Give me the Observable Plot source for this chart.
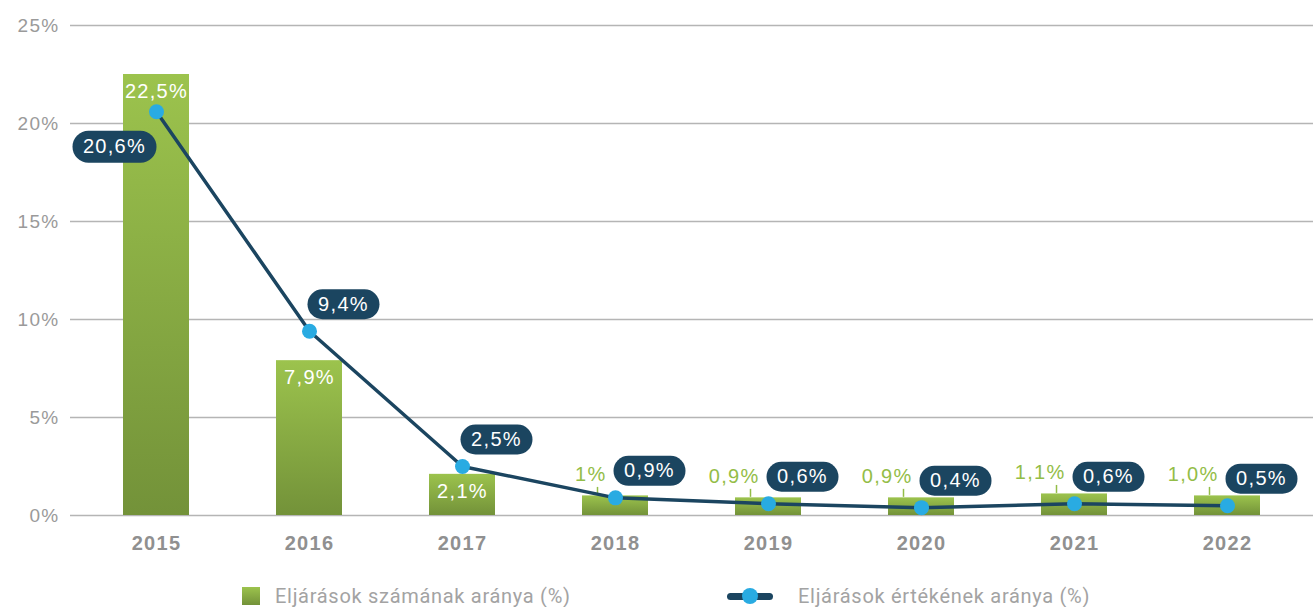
<!DOCTYPE html>
<html><head><meta charset="utf-8">
<script src="https://cdn.jsdelivr.net/npm/d3@7"></script>
<script src="https://cdn.jsdelivr.net/npm/@observablehq/plot@0.6"></script>
<style>
body{margin:0;background:#fff;font-family:"Liberation Sans",Arial,sans-serif}
#wrap{position:relative;width:1313px;height:607px;overflow:hidden}
#legend{position:absolute;left:0;top:577px;width:1313px;height:37px;font-family:Roboto,"Liberation Sans",sans-serif;font-size:20px;letter-spacing:0.7px;color:#a3a3a3}
.item{position:absolute;top:0;height:37px;display:flex;align-items:center}
.sq{width:18px;height:18px;background:linear-gradient(#9cc34d,#739239);margin-right:15px}
.ln{position:relative;width:46px;height:18px;margin-right:25px}
.ln .bar{position:absolute;left:0;right:0;top:6px;height:7px;border-radius:4px;background:#1b4560}
.ln .dt{position:absolute;left:15px;top:1px;width:16px;height:16px;border-radius:50%;background:#29abe2}
svg text{letter-spacing:1.3px}
</style></head><body>
<div id="wrap"><div id="chart"></div><div id="legend"></div></div>
<script>
const years = ["2015","2016","2017","2018","2019","2020","2021","2022"];
const countShare = [22.5, 7.9, 2.1, 1.0, 0.9, 0.9, 1.1, 1.0];
const countLabels = ["22,5%","7,9%","2,1%","1%","0,9%","0,9%","1,1%","1,0%"];
const valueShare = [20.6, 9.4, 2.5, 0.9, 0.6, 0.4, 0.6, 0.5];
const valueLabels = ["20,6%","9,4%","2,5%","0,9%","0,6%","0,4%","0,6%","0,5%"];
const yTicks = [0, 5, 10, 15, 20, 25];
const seriesNames = ["Eljárások számának aránya (%)", "Eljárások értékének aránya (%)"];

const navy = "#1b4560", blue = "#29abe2", green = "#93bd47";

const data = years.map((y, i) => ({year: y, count: countShare[i], countLabel: countLabels[i], value: valueShare[i], valueLabel: valueLabels[i]}));
const inside = data.filter(d => d.count >= 2);
const above = data.filter(d => d.count < 2);
const first = data.slice(0, 1);
const rest = data.slice(1);

const defs = () => {
  const ns = "http://www.w3.org/2000/svg";
  const d = document.createElementNS(ns, "defs");
  d.innerHTML = '<linearGradient id="barGrad" x1="0" y1="0" x2="0" y2="1"><stop offset="0" stop-color="#9cc34d"/><stop offset="1" stop-color="#739239"/></linearGradient>';
  return d;
};
function pill(w, h) {
  return {draw(ctx) {
    const r = h / 2;
    ctx.moveTo(-w / 2 + r, -r);
    ctx.lineTo(w / 2 - r, -r);
    ctx.arc(w / 2 - r, 0, r, -Math.PI / 2, Math.PI / 2);
    ctx.lineTo(-w / 2 + r, r);
    ctx.arc(-w / 2 + r, 0, r, Math.PI / 2, 3 * Math.PI / 2);
    ctx.closePath();
  }};
}
const tickSym = {draw(ctx) { ctx.moveTo(0, -4); ctx.lineTo(0, 4); }};

const chart = Plot.plot({
  width: 1313, height: 570,
  marginLeft: 70, marginRight: 0, marginTop: 25, marginBottom: 55,
  style: {fontFamily: "'Liberation Sans', Arial, sans-serif", fontSize: "19px", color: "#999", background: "white", overflow: "visible"},
  x: {domain: years, paddingInner: 0.57, paddingOuter: 0.347, label: null},
  y: {domain: [0, 25], label: null},
  marks: [
    defs,
    Plot.ruleY(yTicks, {stroke: "#b5b5b5", strokeWidth: 1.5}),
    Plot.axisY({ticks: yTicks, tickFormat: d => d + "%", tickSize: 0, tickPadding: 11, fill: "#9a9a9a", fontSize: 19, label: null}),
    Plot.axisX({tickSize: 0, tickPadding: 20, fill: "#909090", fontSize: 20, fontWeight: 600, label: null}),
    Plot.barY(data, {x: "year", y: "count", fill: "url(#barGrad)"}),
    Plot.text(inside, {x: "year", y: "count", text: "countLabel", fill: "white", dy: 17, fontSize: 20}),
    Plot.dot(above, {x: "year", y: "count", symbol: tickSym, stroke: green, fill: "none", strokeWidth: 1.5, dx: -18, dy: -5}),
    Plot.text(above, {x: "year", y: "count", text: "countLabel", fill: green, textAnchor: "end", dx: -9, dy: -21, fontSize: 20}),
    Plot.line(data, {x: "year", y: "value", stroke: navy, strokeWidth: 3.5}),
    Plot.dot(data, {x: "year", y: "value", r: 7.5, fill: blue}),
    Plot.dot(first, {x: "year", y: "value", symbol: pill(84, 32), fill: navy, dx: -42, dy: 35}),
    Plot.text(first, {x: "year", y: "value", text: "valueLabel", fill: "white", fontSize: 20, dx: -42, dy: 35}),
    Plot.dot(rest, {x: "year", y: "value", symbol: pill(72, 30), fill: navy, dx: 34, dy: -27}),
    Plot.text(rest, {x: "year", y: "value", text: "valueLabel", fill: "white", fontSize: 20, dx: 34, dy: -27})
  ]
});
document.getElementById("chart").appendChild(chart);

const leg = document.getElementById("legend");
leg.innerHTML =
  '<div class="item" style="left:242px"><div class="sq"></div><span>' + seriesNames[0] + '</span></div>' +
  '<div class="item" style="left:727px"><div class="ln"><div class="bar"></div><div class="dt"></div></div><span>' + seriesNames[1] + '</span></div>';
</script>
</body></html>
